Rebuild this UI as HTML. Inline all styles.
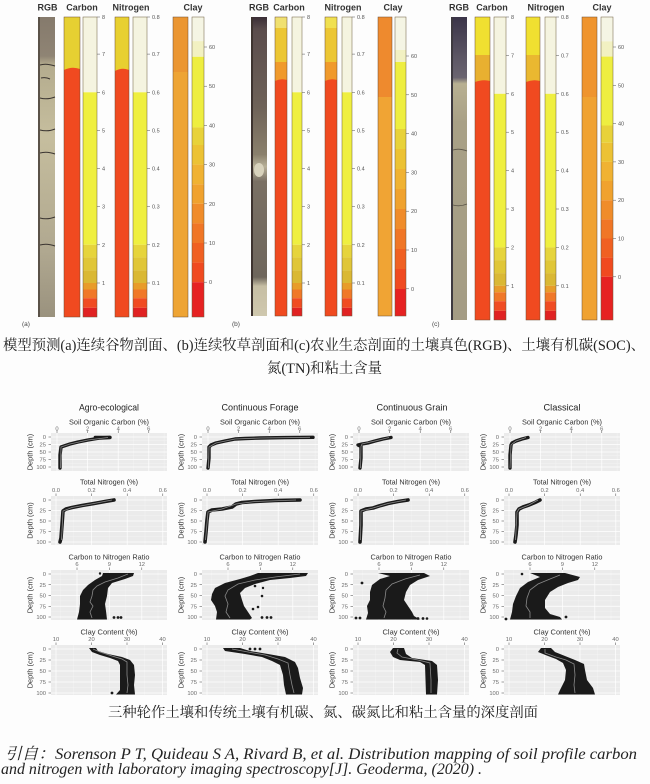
<!DOCTYPE html>
<html><head><meta charset="utf-8">
<style>
html,body{margin:0;padding:0;background:#fdfdfd;}
svg{display:block;}
.hd{font-family:"Liberation Sans",sans-serif;font-weight:bold;font-size:9px;fill:#333;}
.tk{font-family:"Liberation Sans",sans-serif;font-size:5.5px;fill:#555;}
.ft{font-family:"Liberation Sans",sans-serif;font-size:9px;fill:#222;}
.at{font-family:"Liberation Sans",sans-serif;font-size:7.2px;fill:#333;}
.gt{font-family:"Liberation Sans",sans-serif;font-size:5.8px;fill:#6a6a6a;}
.dp{font-family:"Liberation Sans",sans-serif;font-size:7.4px;fill:#333;}
.cap{font-family:"Liberation Serif","Noto Serif CJK SC",serif;fill:#222;}
.cit{font-family:"Liberation Serif","Noto Serif CJK SC",serif;font-style:italic;fill:#222;}
.lb{font-family:"Liberation Sans",sans-serif;font-size:6.5px;fill:#444;}
</style></head>
<body>
<svg width="650" height="784" viewBox="0 0 650 784" xmlns="http://www.w3.org/2000/svg">
<defs>
<linearGradient id="rgbA" x1="0" y1="0" x2="0" y2="1">
<stop offset="0" stop-color="#857a6c"/><stop offset="0.13" stop-color="#8f8474"/>
<stop offset="0.16" stop-color="#b4ac8e"/><stop offset="0.4" stop-color="#c6be9e"/>
<stop offset="0.6" stop-color="#bab296"/><stop offset="0.78" stop-color="#b0a890"/>
<stop offset="1" stop-color="#9a927e"/></linearGradient>
<linearGradient id="rgbB" x1="0" y1="0" x2="0" y2="1">
<stop offset="0" stop-color="#3a2e36"/><stop offset="0.04" stop-color="#5a4c4c"/>
<stop offset="0.3" stop-color="#6e6258"/><stop offset="0.46" stop-color="#8a806c"/>
<stop offset="0.5" stop-color="#b8b098"/><stop offset="0.55" stop-color="#7a7064"/>
<stop offset="0.87" stop-color="#6e665c"/><stop offset="0.9" stop-color="#c6bea4"/>
<stop offset="1" stop-color="#cfc8ae"/></linearGradient>
<linearGradient id="rgbC" x1="0" y1="0" x2="0" y2="1">
<stop offset="0" stop-color="#3a3448"/><stop offset="0.14" stop-color="#5e5866"/>
<stop offset="0.2" stop-color="#6a6470"/><stop offset="0.22" stop-color="#b8b092"/>
<stop offset="0.35" stop-color="#a8a086"/><stop offset="1" stop-color="#a49c84"/></linearGradient>

<g id="r1">
<rect x="0" y="433" width="116" height="38" fill="#ebebeb"/>
<path d="M0 440.75H116M0 448.25H116M0 455.75H116M0 463.25H116M21.3 433V471M51.9 433V471M82.5 433V471M113.1 433V471" stroke="#f6f6f6" stroke-width="0.35"/>
<path d="M0 437H116M0 444.5H116M0 452H116M0 459.5H116M0 467H116M6 433V471M36.6 433V471M67.2 433V471M97.8 433V471" stroke="#fff" stroke-width="0.7"/>
<path d="M-2.5 437H0M-2.5 444.5H0M-2.5 452H0M-2.5 459.5H0M-2.5 467H0M6 430.5V433M36.6 430.5V433M67.2 430.5V433M97.8 430.5V433" stroke="#444" stroke-width="0.5"/>
</g>
<g id="r2">
<rect x="0" y="496" width="116" height="49" fill="#ebebeb"/>
<path d="M0 505.25H116M0 515.75H116M0 526.25H116M0 536.75H116M22.8 496V545M58.4 496V545M94 496V545" stroke="#f6f6f6" stroke-width="0.35"/>
<path d="M0 500H116M0 510.5H116M0 521H116M0 531.5H116M0 542H116M5 496V545M40.6 496V545M76.2 496V545M111.8 496V545" stroke="#fff" stroke-width="0.7"/>
<path d="M-2.5 500H0M-2.5 510.5H0M-2.5 521H0M-2.5 531.5H0M-2.5 542H0M5 493.5V496M40.6 493.5V496M76.2 493.5V496M111.8 493.5V496" stroke="#444" stroke-width="0.5"/>
</g>
<g id="r3">
<rect x="0" y="570" width="116" height="50" fill="#ebebeb"/>
<path d="M0 579.4H116M0 590.1H116M0 600.9H116M0 611.6H116M9.8 570V620M42.2 570V620M74.6 570V620M107 570V620" stroke="#f6f6f6" stroke-width="0.35"/>
<path d="M0 574H116M0 584.75H116M0 595.5H116M0 606.25H116M0 617H116M26 570V620M58.4 570V620M90.8 570V620" stroke="#fff" stroke-width="0.7"/>
<path d="M-2.5 574H0M-2.5 584.75H0M-2.5 595.5H0M-2.5 606.25H0M-2.5 617H0M26 567.5V570M58.4 567.5V570M90.8 567.5V570" stroke="#444" stroke-width="0.5"/>
</g>
<g id="r4">
<rect x="0" y="645" width="116" height="50" fill="#ebebeb"/>
<path d="M0 654.5H116M0 665.5H116M0 676.5H116M0 687.5H116M22.75 645V695M58.25 645V695M93.75 645V695" stroke="#f6f6f6" stroke-width="0.35"/>
<path d="M0 649H116M0 660H116M0 671H116M0 682H116M0 693H116M5 645V695M40.5 645V695M76 645V695M111.5 645V695" stroke="#fff" stroke-width="0.7"/>
<path d="M-2.5 649H0M-2.5 660H0M-2.5 671H0M-2.5 682H0M-2.5 693H0M5 642.5V645M40.5 642.5V645M76 642.5V645M111.5 642.5V645" stroke="#444" stroke-width="0.5"/>
</g>
</defs>

<rect x="0" y="0" width="650" height="784" fill="#fdfdfd"/>

<!-- ================= PANEL (a) ================= -->
<text class="hd" x="47.5" y="10.5" text-anchor="middle">RGB</text>
<text class="hd" x="82" y="10.5" text-anchor="middle">Carbon</text>
<text class="hd" x="131" y="10.5" text-anchor="middle">Nitrogen</text>
<text class="hd" x="193" y="10.5" text-anchor="middle">Clay</text>
<rect x="38" y="17" width="17" height="300" fill="url(#rgbA)"/>
<rect x="38" y="17" width="2" height="300" fill="#5a5248"/>
<path d="M40 65Q46 63 55 66M41 78Q46 77 50 79M40 98Q47 100 55 97M40 130Q48 132 55 129M40 153Q47 151 55 154M40 218Q47 220 55 217M40 245Q47 243 55 246" stroke="#3a3430" stroke-width="1" fill="none"/>
<rect x="64" y="17" width="16" height="300" fill="#f04a20"/>
<path d="M64 17H80V69Q72 66 64 70Z" fill="#e6d032"/>
<rect x="64" y="17" width="16" height="300" fill="none" stroke="#6a4a30" stroke-width="0.5"/>
<g>
<rect x="83" y="17" width="14" height="75.3" fill="#f5f4e0"/>
<rect x="83" y="92.3" width="14" height="152.5" fill="#efef40"/>
<rect x="83" y="244.8" width="14" height="12.6" fill="#e6d43c"/>
<rect x="83" y="257.4" width="14" height="13" fill="#e0c638"/>
<rect x="83" y="270.4" width="14" height="12.6" fill="#dab834"/>
<rect x="83" y="283" width="14" height="6.5" fill="#e89c2a"/>
<rect x="83" y="289.5" width="14" height="8.7" fill="#f07828"/>
<rect x="83" y="298.2" width="14" height="9.6" fill="#f04c22"/>
<rect x="83" y="307.8" width="14" height="9.2" fill="#e02222"/>
<rect x="83" y="17" width="14" height="300" fill="none" stroke="#6a5a3a" stroke-width="0.5"/>
<path d="M97 17H100M97 54.1H100M97 92.3H100M97 130.4H100M97 168.5H100M97 206.7H100M97 244.8H100M97 283H100" stroke="#555" stroke-width="0.5"/>
<text class="tk" x="102" y="19">8</text><text class="tk" x="102" y="56.1">7</text><text class="tk" x="102" y="94.3">6</text><text class="tk" x="102" y="132.4">5</text><text class="tk" x="102" y="170.5">4</text><text class="tk" x="102" y="208.7">3</text><text class="tk" x="102" y="246.8">2</text><text class="tk" x="102" y="285">1</text>
</g>
<rect x="115" y="17" width="14" height="300" fill="#f04a20"/>
<path d="M115 17H129V70Q122 67 115 71Z" fill="#e8d030"/>
<rect x="115" y="17" width="14" height="300" fill="none" stroke="#6a4a30" stroke-width="0.5"/>
<g>
<rect x="133" y="17" width="14" height="75.3" fill="#f5f4e0"/>
<rect x="133" y="92.3" width="14" height="152.5" fill="#efef40"/>
<rect x="133" y="244.8" width="14" height="12.6" fill="#e6d43c"/>
<rect x="133" y="257.4" width="14" height="13" fill="#e0c638"/>
<rect x="133" y="270.4" width="14" height="12.6" fill="#dab834"/>
<rect x="133" y="283" width="14" height="6.5" fill="#e89c2a"/>
<rect x="133" y="289.5" width="14" height="8.7" fill="#f07828"/>
<rect x="133" y="298.2" width="14" height="9.6" fill="#f04c22"/>
<rect x="133" y="307.8" width="14" height="9.2" fill="#e02222"/>
<rect x="133" y="17" width="14" height="300" fill="none" stroke="#6a5a3a" stroke-width="0.5"/>
<path d="M147 17H150M147 54.1H150M147 92.3H150M147 130.4H150M147 168.5H150M147 206.7H150M147 244.8H150M147 283H150" stroke="#555" stroke-width="0.5"/>
<text class="tk" x="152" y="19">0.8</text><text class="tk" x="152" y="56.1">0.7</text><text class="tk" x="152" y="94.3">0.6</text><text class="tk" x="152" y="132.4">0.5</text><text class="tk" x="152" y="170.5">0.4</text><text class="tk" x="152" y="208.7">0.3</text><text class="tk" x="152" y="246.8">0.2</text><text class="tk" x="152" y="285">0.1</text>
</g>
<rect x="173" y="17" width="15" height="300" fill="#eea434"/>
<rect x="173" y="17" width="15" height="55" fill="#eb9632"/>
<rect x="173" y="17" width="15" height="300" fill="none" stroke="#6a4a30" stroke-width="0.5"/>
<g>
<rect x="192" y="17" width="12" height="24.1" fill="#f5f5e4"/>
<rect x="192" y="41.1" width="12" height="15.7" fill="#f2f1c2"/>
<rect x="192" y="56.8" width="12" height="70.6" fill="#eeee40"/>
<rect x="192" y="127.4" width="12" height="17.6" fill="#e8d23a"/>
<rect x="192" y="145" width="12" height="19.6" fill="#ecc234"/>
<rect x="192" y="164.6" width="12" height="19.6" fill="#f0b232"/>
<rect x="192" y="184.2" width="12" height="19.6" fill="#f0a22e"/>
<rect x="192" y="203.8" width="12" height="19.6" fill="#f08c2a"/>
<rect x="192" y="223.4" width="12" height="19.6" fill="#f07626"/>
<rect x="192" y="243" width="12" height="19.6" fill="#f06022"/>
<rect x="192" y="262.6" width="12" height="19.6" fill="#f04a20"/>
<rect x="192" y="282.2" width="12" height="34.8" fill="#e62222"/>
<rect x="192" y="17" width="12" height="300" fill="none" stroke="#6a5a3a" stroke-width="0.5"/>
<path d="M204 47H207M204 86.2H207M204 125.4H207M204 164.6H207M204 203.8H207M204 243H207M204 282.2H207" stroke="#555" stroke-width="0.5"/>
<text class="tk" x="209" y="49">60</text><text class="tk" x="209" y="88.2">50</text><text class="tk" x="209" y="127.4">40</text><text class="tk" x="209" y="166.6">30</text><text class="tk" x="209" y="205.8">20</text><text class="tk" x="209" y="245">10</text><text class="tk" x="209" y="284.2">0</text>
</g>
<text class="lb" x="22" y="326">(a)</text>

<!-- ================= PANEL (b) ================= -->
<text class="hd" x="259" y="10.5" text-anchor="middle">RGB</text>
<text class="hd" x="289" y="10.5" text-anchor="middle">Carbon</text>
<text class="hd" x="343" y="10.5" text-anchor="middle">Nitrogen</text>
<text class="hd" x="393" y="10.5" text-anchor="middle">Clay</text>
<rect x="251" y="17" width="16" height="299" fill="url(#rgbB)"/>
<rect x="251" y="17" width="2" height="299" fill="#3e3430"/>
<ellipse cx="259" cy="170" rx="5" ry="7" fill="#d8d2bc"/>
<rect x="275" y="17" width="12" height="299" fill="#f04a20"/>
<rect x="275" y="17" width="12" height="11" fill="#f0e070"/>
<rect x="275" y="28" width="12" height="34" fill="#ecc634"/>
<path d="M275 62H287V80Q281 78 275 81Z" fill="#f09a2c"/>
<rect x="275" y="17" width="12" height="299" fill="none" stroke="#6a4a30" stroke-width="0.5"/>
<g>
<rect x="292" y="17" width="10" height="75.3" fill="#f5f4e0"/>
<rect x="292" y="92.3" width="10" height="152.5" fill="#efef40"/>
<rect x="292" y="244.8" width="10" height="12.6" fill="#e6d43c"/>
<rect x="292" y="257.4" width="10" height="13" fill="#e0c638"/>
<rect x="292" y="270.4" width="10" height="12.6" fill="#dab834"/>
<rect x="292" y="283" width="10" height="6.5" fill="#e89c2a"/>
<rect x="292" y="289.5" width="10" height="8.7" fill="#f07828"/>
<rect x="292" y="298.2" width="10" height="9.6" fill="#f04c22"/>
<rect x="292" y="307.8" width="10" height="8.2" fill="#e02222"/>
<rect x="292" y="17" width="10" height="299" fill="none" stroke="#6a5a3a" stroke-width="0.5"/>
<path d="M302 17H305M302 54.1H305M302 92.3H305M302 130.4H305M302 168.5H305M302 206.7H305M302 244.8H305M302 283H305" stroke="#555" stroke-width="0.5"/>
<text class="tk" x="307" y="19">8</text><text class="tk" x="307" y="56.1">7</text><text class="tk" x="307" y="94.3">6</text><text class="tk" x="307" y="132.4">5</text><text class="tk" x="307" y="170.5">4</text><text class="tk" x="307" y="208.7">3</text><text class="tk" x="307" y="246.8">2</text><text class="tk" x="307" y="285">1</text>
</g>
<rect x="325" y="17" width="12" height="299" fill="#f04a20"/>
<rect x="325" y="17" width="12" height="11" fill="#f0e050"/>
<rect x="325" y="28" width="12" height="34" fill="#ecc634"/>
<path d="M325 62H337V80Q331 78 325 81Z" fill="#f09a2c"/>
<rect x="325" y="17" width="12" height="299" fill="none" stroke="#6a4a30" stroke-width="0.5"/>
<g>
<rect x="342" y="17" width="10" height="75.3" fill="#f5f4e0"/>
<rect x="342" y="92.3" width="10" height="152.5" fill="#efef40"/>
<rect x="342" y="244.8" width="10" height="12.6" fill="#e6d43c"/>
<rect x="342" y="257.4" width="10" height="13" fill="#e0c638"/>
<rect x="342" y="270.4" width="10" height="12.6" fill="#dab834"/>
<rect x="342" y="283" width="10" height="6.5" fill="#e89c2a"/>
<rect x="342" y="289.5" width="10" height="8.7" fill="#f07828"/>
<rect x="342" y="298.2" width="10" height="9.6" fill="#f04c22"/>
<rect x="342" y="307.8" width="10" height="8.2" fill="#e02222"/>
<rect x="342" y="17" width="10" height="299" fill="none" stroke="#6a5a3a" stroke-width="0.5"/>
<path d="M352 17H355M352 54.1H355M352 92.3H355M352 130.4H355M352 168.5H355M352 206.7H355M352 244.8H355M352 283H355" stroke="#555" stroke-width="0.5"/>
<text class="tk" x="357" y="19">0.8</text><text class="tk" x="357" y="56.1">0.7</text><text class="tk" x="357" y="94.3">0.6</text><text class="tk" x="357" y="132.4">0.5</text><text class="tk" x="357" y="170.5">0.4</text><text class="tk" x="357" y="208.7">0.3</text><text class="tk" x="357" y="246.8">0.2</text><text class="tk" x="357" y="285">0.1</text>
</g>
<rect x="378" y="17" width="14" height="299" fill="#f0a434"/>
<rect x="378" y="17" width="14" height="80" fill="#ee8a2e"/>
<rect x="378" y="17" width="14" height="299" fill="none" stroke="#6a4a30" stroke-width="0.5"/>
<g>
<rect x="395" y="17" width="11" height="33" fill="#f5f5e4"/>
<rect x="395" y="50" width="11" height="12" fill="#f2f1c2"/>
<rect x="395" y="62" width="11" height="67" fill="#eeee40"/>
<rect x="395" y="129" width="11" height="20" fill="#e8d23a"/>
<rect x="395" y="149" width="11" height="20" fill="#ecc234"/>
<rect x="395" y="169" width="11" height="20" fill="#f0b232"/>
<rect x="395" y="189" width="11" height="20" fill="#f0a22e"/>
<rect x="395" y="209" width="11" height="20" fill="#f08c2a"/>
<rect x="395" y="229" width="11" height="20" fill="#f07626"/>
<rect x="395" y="249" width="11" height="20" fill="#f06022"/>
<rect x="395" y="269" width="11" height="20" fill="#f04a20"/>
<rect x="395" y="289" width="11" height="27" fill="#e62222"/>
<rect x="395" y="17" width="11" height="299" fill="none" stroke="#6a5a3a" stroke-width="0.5"/>
<path d="M406 56H409M406 94.8H409M406 133.6H409M406 172.4H409M406 211.2H409M406 250H409M406 288.8H409" stroke="#555" stroke-width="0.5"/>
<text class="tk" x="411" y="58">60</text><text class="tk" x="411" y="96.8">50</text><text class="tk" x="411" y="135.6">40</text><text class="tk" x="411" y="174.4">30</text><text class="tk" x="411" y="213.2">20</text><text class="tk" x="411" y="252">10</text><text class="tk" x="411" y="290.8">0</text>
</g>
<text class="lb" x="232" y="326">(b)</text>

<!-- ================= PANEL (c) ================= -->
<text class="hd" x="459" y="10.5" text-anchor="middle">RGB</text>
<text class="hd" x="492" y="10.5" text-anchor="middle">Carbon</text>
<text class="hd" x="546" y="10.5" text-anchor="middle">Nitrogen</text>
<text class="hd" x="602" y="10.5" text-anchor="middle">Clay</text>
<rect x="451" y="17" width="16" height="303" fill="url(#rgbC)"/>
<rect x="451" y="17" width="2" height="303" fill="#3e3a40"/>
<path d="M453 150Q459 148 467 151M453 205Q460 207 467 204" stroke="#5a5448" stroke-width="0.8" fill="none"/>
<rect x="475" y="17" width="15" height="303" fill="#f04a20"/>
<rect x="475" y="17" width="15" height="38" fill="#f0e030"/>
<path d="M475 55H490V81Q483 79 475 82Z" fill="#e8b030"/>
<rect x="475" y="17" width="15" height="303" fill="none" stroke="#6a4a30" stroke-width="0.5"/>
<g>
<rect x="494" y="17" width="12" height="76.8" fill="#f5f4e0"/>
<rect x="494" y="93.8" width="12" height="153.6" fill="#efef40"/>
<rect x="494" y="247.4" width="12" height="12.7" fill="#e6d43c"/>
<rect x="494" y="260.1" width="12" height="13" fill="#e0c638"/>
<rect x="494" y="273.1" width="12" height="12.7" fill="#dab834"/>
<rect x="494" y="285.8" width="12" height="6.5" fill="#e89c2a"/>
<rect x="494" y="292.3" width="12" height="8.9" fill="#f07828"/>
<rect x="494" y="301.2" width="12" height="9.6" fill="#f04c22"/>
<rect x="494" y="310.8" width="12" height="9.2" fill="#e02222"/>
<rect x="494" y="17" width="12" height="303" fill="none" stroke="#6a5a3a" stroke-width="0.5"/>
<path d="M506 17H509M506 55.4H509M506 93.8H509M506 132.2H509M506 170.6H509M506 209H509M506 247.4H509M506 285.8H509" stroke="#555" stroke-width="0.5"/>
<text class="tk" x="511" y="19">8</text><text class="tk" x="511" y="57.4">7</text><text class="tk" x="511" y="95.8">6</text><text class="tk" x="511" y="134.2">5</text><text class="tk" x="511" y="172.6">4</text><text class="tk" x="511" y="211">3</text><text class="tk" x="511" y="249.4">2</text><text class="tk" x="511" y="287.8">1</text>
</g>
<rect x="526" y="17" width="14" height="303" fill="#f04a20"/>
<rect x="526" y="17" width="14" height="38" fill="#f0e030"/>
<path d="M526 55H540V81Q533 79 526 82Z" fill="#eab830"/>
<rect x="526" y="17" width="14" height="303" fill="none" stroke="#6a4a30" stroke-width="0.5"/>
<g>
<rect x="545" y="17" width="11" height="76.8" fill="#f5f4e0"/>
<rect x="545" y="93.8" width="11" height="153.6" fill="#efef40"/>
<rect x="545" y="247.4" width="11" height="12.7" fill="#e6d43c"/>
<rect x="545" y="260.1" width="11" height="13" fill="#e0c638"/>
<rect x="545" y="273.1" width="11" height="12.7" fill="#dab834"/>
<rect x="545" y="285.8" width="11" height="6.5" fill="#e89c2a"/>
<rect x="545" y="292.3" width="11" height="8.9" fill="#f07828"/>
<rect x="545" y="301.2" width="11" height="9.6" fill="#f04c22"/>
<rect x="545" y="310.8" width="11" height="9.2" fill="#e02222"/>
<rect x="545" y="17" width="11" height="303" fill="none" stroke="#6a5a3a" stroke-width="0.5"/>
<path d="M556 17H559M556 55.4H559M556 93.8H559M556 132.2H559M556 170.6H559M556 209H559M556 247.4H559M556 285.8H559" stroke="#555" stroke-width="0.5"/>
<text class="tk" x="561" y="19">0.8</text><text class="tk" x="561" y="57.4">0.7</text><text class="tk" x="561" y="95.8">0.6</text><text class="tk" x="561" y="134.2">0.5</text><text class="tk" x="561" y="172.6">0.4</text><text class="tk" x="561" y="211">0.3</text><text class="tk" x="561" y="249.4">0.2</text><text class="tk" x="561" y="287.8">0.1</text>
</g>
<rect x="582" y="17" width="15" height="303" fill="#f0a232"/>
<rect x="582" y="17" width="15" height="80" fill="#ef942e"/>
<rect x="582" y="17" width="15" height="303" fill="none" stroke="#6a4a30" stroke-width="0.5"/>
<g>
<rect x="601" y="17" width="12" height="24.3" fill="#f5f5e4"/>
<rect x="601" y="41.3" width="12" height="15.3" fill="#f2f1c2"/>
<rect x="601" y="56.6" width="12" height="68.9" fill="#eeee40"/>
<rect x="601" y="125.5" width="12" height="17.3" fill="#e8d23a"/>
<rect x="601" y="142.8" width="12" height="19.1" fill="#ecc234"/>
<rect x="601" y="161.9" width="12" height="19.1" fill="#f0b232"/>
<rect x="601" y="181" width="12" height="19.2" fill="#f0a22e"/>
<rect x="601" y="200.2" width="12" height="19.2" fill="#f08c2a"/>
<rect x="601" y="219.4" width="12" height="19.1" fill="#f07626"/>
<rect x="601" y="238.5" width="12" height="19.1" fill="#f06022"/>
<rect x="601" y="257.6" width="12" height="19.2" fill="#f04a20"/>
<rect x="601" y="276.8" width="12" height="43.2" fill="#e62222"/>
<rect x="601" y="17" width="12" height="303" fill="none" stroke="#6a5a3a" stroke-width="0.5"/>
<path d="M613 47H616M613 85.3H616M613 123.6H616M613 161.9H616M613 200.2H616M613 238.5H616M613 276.8H616" stroke="#555" stroke-width="0.5"/>
<text class="tk" x="618" y="49">60</text><text class="tk" x="618" y="87.3">50</text><text class="tk" x="618" y="125.6">40</text><text class="tk" x="618" y="163.9">30</text><text class="tk" x="618" y="202.2">20</text><text class="tk" x="618" y="240.5">10</text><text class="tk" x="618" y="278.8">0</text>
</g>
<text class="lb" x="432" y="326">(c)</text>

<!-- Caption 1 -->
<text class="cap" x="3" y="350" font-size="14.5" textLength="642" lengthAdjust="spacingAndGlyphs">模型预测(a)连续谷物剖面、(b)连续牧草剖面和(c)农业生态剖面的土壤真色(RGB)、土壤有机碳(SOC)、</text>
<text class="cap" x="267" y="373" font-size="14.5" textLength="115" lengthAdjust="spacingAndGlyphs">氮(TN)和粘土含量</text>

<!-- ================= BOTTOM CHARTS ================= -->
<text class="ft" x="109" y="410.5" text-anchor="middle" textLength="60" lengthAdjust="spacingAndGlyphs">Agro-ecological</text>
<text class="ft" x="260" y="410.5" text-anchor="middle" textLength="77" lengthAdjust="spacingAndGlyphs">Continuous Forage</text>
<text class="ft" x="412" y="410.5" text-anchor="middle" textLength="71" lengthAdjust="spacingAndGlyphs">Continuous Grain</text>
<text class="ft" x="562" y="410.5" text-anchor="middle" textLength="37" lengthAdjust="spacingAndGlyphs">Classical</text>

<use href="#r1" x="51"/><use href="#r1" x="202"/><use href="#r1" x="353"/><use href="#r1" x="504"/>
<use href="#r2" x="51"/><use href="#r2" x="202"/><use href="#r2" x="353"/><use href="#r2" x="504"/>
<use href="#r3" x="51"/><use href="#r3" x="202"/><use href="#r3" x="353"/><use href="#r3" x="504"/>
<use href="#r4" x="51"/><use href="#r4" x="202"/><use href="#r4" x="353"/><use href="#r4" x="504"/>

<g class="at" text-anchor="middle">
<text x="109" y="424.5" textLength="80" lengthAdjust="spacingAndGlyphs">Soil Organic Carbon (%)</text>
<text x="260" y="424.5" textLength="80" lengthAdjust="spacingAndGlyphs">Soil Organic Carbon (%)</text>
<text x="411" y="424.5" textLength="80" lengthAdjust="spacingAndGlyphs">Soil Organic Carbon (%)</text>
<text x="562" y="424.5" textLength="80" lengthAdjust="spacingAndGlyphs">Soil Organic Carbon (%)</text>
<text x="109" y="484.5" textLength="58" lengthAdjust="spacingAndGlyphs">Total Nitrogen (%)</text>
<text x="260" y="484.5" textLength="58" lengthAdjust="spacingAndGlyphs">Total Nitrogen (%)</text>
<text x="411" y="484.5" textLength="58" lengthAdjust="spacingAndGlyphs">Total Nitrogen (%)</text>
<text x="562" y="484.5" textLength="58" lengthAdjust="spacingAndGlyphs">Total Nitrogen (%)</text>
<text x="109" y="559.5" textLength="81" lengthAdjust="spacingAndGlyphs">Carbon to Nitrogen Ratio</text>
<text x="260" y="559.5" textLength="81" lengthAdjust="spacingAndGlyphs">Carbon to Nitrogen Ratio</text>
<text x="411" y="559.5" textLength="81" lengthAdjust="spacingAndGlyphs">Carbon to Nitrogen Ratio</text>
<text x="562" y="559.5" textLength="81" lengthAdjust="spacingAndGlyphs">Carbon to Nitrogen Ratio</text>
<text x="109" y="634.5" textLength="57" lengthAdjust="spacingAndGlyphs">Clay Content (%)</text>
<text x="260" y="634.5" textLength="57" lengthAdjust="spacingAndGlyphs">Clay Content (%)</text>
<text x="411" y="634.5" textLength="57" lengthAdjust="spacingAndGlyphs">Clay Content (%)</text>
<text x="562" y="634.5" textLength="57" lengthAdjust="spacingAndGlyphs">Clay Content (%)</text>
</g>

<g class="gt" text-anchor="middle">
<text x="57" y="430.5">0</text><text x="87.6" y="430.5">2</text><text x="118.2" y="430.5">4</text><text x="148.8" y="430.5">6</text>
<text x="208" y="430.5">0</text><text x="238.6" y="430.5">2</text><text x="269.2" y="430.5">4</text><text x="299.8" y="430.5">6</text>
<text x="359" y="430.5">0</text><text x="389.6" y="430.5">2</text><text x="420.2" y="430.5">4</text><text x="450.8" y="430.5">6</text>
<text x="510" y="430.5">0</text><text x="540.6" y="430.5">2</text><text x="571.2" y="430.5">4</text><text x="601.8" y="430.5">6</text>

<text x="56" y="492">0.0</text><text x="91.6" y="492">0.2</text><text x="127.2" y="492">0.4</text><text x="162.8" y="492">0.6</text>
<text x="207" y="492">0.0</text><text x="242.6" y="492">0.2</text><text x="278.2" y="492">0.4</text><text x="313.8" y="492">0.6</text>
<text x="358" y="492">0.0</text><text x="393.6" y="492">0.2</text><text x="429.2" y="492">0.4</text><text x="464.8" y="492">0.6</text>
<text x="509" y="492">0.0</text><text x="544.6" y="492">0.2</text><text x="580.2" y="492">0.4</text><text x="615.8" y="492">0.6</text>

<text x="77" y="566">6</text><text x="109.4" y="566">9</text><text x="141.8" y="566">12</text>
<text x="228" y="566">6</text><text x="260.4" y="566">9</text><text x="292.8" y="566">12</text>
<text x="379" y="566">6</text><text x="411.4" y="566">9</text><text x="443.8" y="566">12</text>
<text x="530" y="566">6</text><text x="562.4" y="566">9</text><text x="594.8" y="566">12</text>

<text x="56" y="641">10</text><text x="91.5" y="641">20</text><text x="127" y="641">30</text><text x="162.5" y="641">40</text>
<text x="207" y="641">10</text><text x="242.5" y="641">20</text><text x="278" y="641">30</text><text x="313.5" y="641">40</text>
<text x="358" y="641">10</text><text x="393.5" y="641">20</text><text x="429" y="641">30</text><text x="464.5" y="641">40</text>
<text x="509" y="641">10</text><text x="544.5" y="641">20</text><text x="580" y="641">30</text><text x="615.5" y="641">40</text>
</g>

<g class="gt" text-anchor="end">
<text x="46" y="439">0</text><text x="46" y="446.5">25</text><text x="46" y="454">50</text><text x="46" y="461.5">75</text><text x="46" y="469">100</text>
<text x="197" y="439">0</text><text x="197" y="446.5">25</text><text x="197" y="454">50</text><text x="197" y="461.5">75</text><text x="197" y="469">100</text>
<text x="348" y="439">0</text><text x="348" y="446.5">25</text><text x="348" y="454">50</text><text x="348" y="461.5">75</text><text x="348" y="469">100</text>
<text x="499" y="439">0</text><text x="499" y="446.5">25</text><text x="499" y="454">50</text><text x="499" y="461.5">75</text><text x="499" y="469">100</text>

<text x="46" y="502">0</text><text x="46" y="512.5">25</text><text x="46" y="523">50</text><text x="46" y="533.5">75</text><text x="46" y="544">100</text>
<text x="197" y="502">0</text><text x="197" y="512.5">25</text><text x="197" y="523">50</text><text x="197" y="533.5">75</text><text x="197" y="544">100</text>
<text x="348" y="502">0</text><text x="348" y="512.5">25</text><text x="348" y="523">50</text><text x="348" y="533.5">75</text><text x="348" y="544">100</text>
<text x="499" y="502">0</text><text x="499" y="512.5">25</text><text x="499" y="523">50</text><text x="499" y="533.5">75</text><text x="499" y="544">100</text>

<text x="46" y="576">0</text><text x="46" y="586.75">25</text><text x="46" y="597.5">50</text><text x="46" y="608.25">75</text><text x="46" y="619">100</text>
<text x="197" y="576">0</text><text x="197" y="586.75">25</text><text x="197" y="597.5">50</text><text x="197" y="608.25">75</text><text x="197" y="619">100</text>
<text x="348" y="576">0</text><text x="348" y="586.75">25</text><text x="348" y="597.5">50</text><text x="348" y="608.25">75</text><text x="348" y="619">100</text>
<text x="499" y="576">0</text><text x="499" y="586.75">25</text><text x="499" y="597.5">50</text><text x="499" y="608.25">75</text><text x="499" y="619">100</text>

<text x="46" y="651">0</text><text x="46" y="662">25</text><text x="46" y="673">50</text><text x="46" y="684">75</text><text x="46" y="695">100</text>
<text x="197" y="651">0</text><text x="197" y="662">25</text><text x="197" y="673">50</text><text x="197" y="684">75</text><text x="197" y="695">100</text>
<text x="348" y="651">0</text><text x="348" y="662">25</text><text x="348" y="673">50</text><text x="348" y="684">75</text><text x="348" y="695">100</text>
<text x="499" y="651">0</text><text x="499" y="662">25</text><text x="499" y="673">50</text><text x="499" y="684">75</text><text x="499" y="695">100</text>
</g>

<g class="dp" text-anchor="middle">
<text transform="translate(32.5 452) rotate(-90)">Depth (cm)</text>
<text transform="translate(183.5 452) rotate(-90)">Depth (cm)</text>
<text transform="translate(334.5 452) rotate(-90)">Depth (cm)</text>
<text transform="translate(485.5 452) rotate(-90)">Depth (cm)</text>
<text transform="translate(32.5 520.5) rotate(-90)">Depth (cm)</text>
<text transform="translate(183.5 520.5) rotate(-90)">Depth (cm)</text>
<text transform="translate(334.5 520.5) rotate(-90)">Depth (cm)</text>
<text transform="translate(485.5 520.5) rotate(-90)">Depth (cm)</text>
<text transform="translate(32.5 595) rotate(-90)">Depth (cm)</text>
<text transform="translate(183.5 595) rotate(-90)">Depth (cm)</text>
<text transform="translate(334.5 595) rotate(-90)">Depth (cm)</text>
<text transform="translate(485.5 595) rotate(-90)">Depth (cm)</text>
<text transform="translate(32.5 670) rotate(-90)">Depth (cm)</text>
<text transform="translate(183.5 670) rotate(-90)">Depth (cm)</text>
<text transform="translate(334.5 670) rotate(-90)">Depth (cm)</text>
<text transform="translate(485.5 670) rotate(-90)">Depth (cm)</text>
</g>

<!-- DATA row 1 SOC -->
<g fill="none" stroke="#1a1a1a" stroke-linejoin="round" stroke-linecap="round">
<path stroke-width="3.4" d="M110 437.5L100 438L88 440L78 442L70 444L64 446L61 447L60 455L60 468"/>
<path stroke-width="2.6" d="M95 437L110 437"/>
<path stroke-width="3.4" d="M313 437.3L285 437.6L260 438L245 438.5L235 439L225 441L216 443L211 445L209 447L209 458L208 468"/>
<path stroke-width="3.4" d="M391 437.5L383 439L375 441L368 443L362 444L358 445L361 446.5L361 458L360 468"/>
<path stroke-width="3.4" d="M528 437.5L522 439L516 441L512 443L511 445L510 455L510 468"/>
</g>
<g fill="none" stroke="#8a8a8a" stroke-width="0.8">
<path d="M108 437.5L88 440L70 444L61 447L60.5 468"/>
<path d="M310 437.3L260 438L235 439L216 443L209 447L208.5 468"/>
<path d="M389 437.5L375 441L362 444L361 446.5L360.5 468"/>
<path d="M526 437.5L516 441L511 445L510 468"/>
</g>

<!-- DATA row 2 TN -->
<g fill="none" stroke="#1a1a1a" stroke-linejoin="round" stroke-linecap="round">
<path stroke-width="3.6" d="M114 500L105 501.5L94 503.5L82 505.5L72 507.5L66 509L63 511L62 525L61 538L60 542"/>
<path stroke-width="3.6" d="M300 500L275 500.5L255 501.5L242 502.5L236 504L232 507L222 509L212 510L208 512L207 520L206 532L205 542"/>
<path stroke-width="3.6" d="M408 500L398 501.5L388 503.5L379 506L373 508L366 509L361 511L361 525L360 542"/>
<path stroke-width="3.6" d="M540 500L535 502.5L529 505L523 507L519 509L517 512L517 525L516 535L515 542"/>
</g>
<g fill="none" stroke="#8a8a8a" stroke-width="0.8">
<path d="M112 500L94 503.5L72 507.5L63 511L61.5 540"/>
<path d="M296 500L255 501.5L236 504L222 509L208 512L205.5 540"/>
<path d="M406 500L388 503.5L373 508L361 511L360.5 540"/>
<path d="M538 500L529 505L519 509L517 512L515.5 540"/>
</g>

<!-- DATA row 3 C:N -->
<g fill="#1a1a1a">
<polygon points="103,573 134,573 133,576 125,579 112,583 108,588 107,596 105,604 106,611 107,619.5 77,619.5 79,612 80,604 80,596 83,590 88,585 95,580 102,576"/>
<circle cx="114" cy="617.5" r="1.4"/><circle cx="118" cy="617.5" r="1.4"/><circle cx="121" cy="617.5" r="1.4"/><circle cx="100" cy="573.5" r="1.2"/>
<polygon points="258,573 308,573 306,576 290,578 270,580 255,584 245,588 240,593 242,600 244,606 248,612 252,618 250,619.5 216,619.5 217,612 215,606 211,600 212,594 215,588 225,583 240,579 250,576"/>
<circle cx="255" cy="586" r="1.3"/><circle cx="262" cy="596" r="1.3"/><circle cx="258" cy="607" r="1.3"/><circle cx="253" cy="609" r="1.3"/><circle cx="262" cy="617.5" r="1.4"/><circle cx="267" cy="617.5" r="1.4"/><circle cx="271" cy="617.5" r="1.4"/><circle cx="263" cy="588" r="1.2"/>
<polygon points="378,573 424,573 430,576 418,580 410,585 406,592 404,600 408,606 412,612 414,616 420,619.5 366,619.5 368,613 367,606 370,600 370,592 372,585 380,579 390,576"/>
<circle cx="356" cy="618" r="1.4"/><circle cx="360" cy="618" r="1.4"/><circle cx="362" cy="583" r="1.4"/><circle cx="418" cy="618.5" r="1.4"/><circle cx="423" cy="618.5" r="1.4"/><circle cx="427" cy="618.5" r="1.3"/>
<polygon points="530,573 565,573 580,577 578,580 568,583 558,587 550,592 545,600 545,608 550,614 560,617 562,619.5 510,619.5 512,612 513,604 516,596 520,588 528,582 540,577"/>
<circle cx="506" cy="619" r="1.4"/><circle cx="522" cy="574" r="1.3"/><circle cx="566" cy="617" r="1.4"/>
</g>
<g fill="none" stroke="#8a8a8a" stroke-width="0.8">
<polyline points="128,574 118,578 105,582 97,586 93,590 92,596 90,602 93,606 90,612 92,618"/>
<polyline points="300,574 275,577 255,580 238,584 228,590 225,596 228,604 226,612 230,618"/>
<polyline points="420,575 405,579 392,584 386,590 385,598 383,606 386,612 384,618"/>
<polyline points="560,575 550,579 538,584 530,590 527,598 526,606 530,612 530,618"/>
</g>

<!-- DATA row 4 Clay -->
<g fill="#1a1a1a">
<polygon points="89,648 96,648 98,651 108,654 122,657 130,660 134,665 135,675 134,685 135,694.5 116,694.5 120,690 120,665 118,661 110,658 100,655 92,652"/>
<circle cx="112" cy="693" r="1.4"/>
<polygon points="223,648 240,648 250,651 268,654 285,657 295,662 298,668 300,678 303,688 302,694.5 286,694.5 284,685 283,675 280,665 272,661 262,657 245,654 225,651"/>
<circle cx="250" cy="649" r="1.4"/><circle cx="255" cy="649" r="1.4"/><circle cx="260" cy="649" r="1.4"/>
<polygon points="393,648 404,648 406,654 412,658 432,661 437,665 438,680 437,694.5 426,694.5 425,665 420,662 400,660 393,657 390,652"/>
<polygon points="541,648 551,648 555,652 565,656 575,660 584,664 585,670 587,680 593,688 595,694.5 558,694.5 560,690 565,680 566,670 563,663 556,659 548,656 538,652"/>
</g>
<g fill="none" stroke="#8a8a8a" stroke-width="0.8">
<polyline points="93,649 100,652 112,656 122,659 127,662 127,675 128,685 127,693"/>
<polyline points="232,649 248,652 265,655 278,659 288,663 290,675 292,685 294,693"/>
<polyline points="398,649 397,653 402,657 418,660 430,663 431,680 431,693"/>
<polyline points="545,649 545,653 556,657 566,660 574,664 575,675 574,685 575,693"/>
</g>

<text class="cap" x="108" y="717" font-size="14.3" textLength="430" lengthAdjust="spacingAndGlyphs">三种轮作土壤和传统土壤有机碳、氮、碳氮比和粘土含量的深度剖面</text>

<text class="cit" x="5" y="759" font-size="16" textLength="632" lengthAdjust="spacingAndGlyphs">引自：Sorenson P T, Quideau S A, Rivard B, et al. Distribution mapping of soil profile carbon</text>
<text class="cit" x="1" y="774" font-size="16" textLength="481" lengthAdjust="spacingAndGlyphs">and nitrogen with laboratory imaging spectroscopy[J]. Geoderma, (2020) .</text>
</svg>
</body></html>
